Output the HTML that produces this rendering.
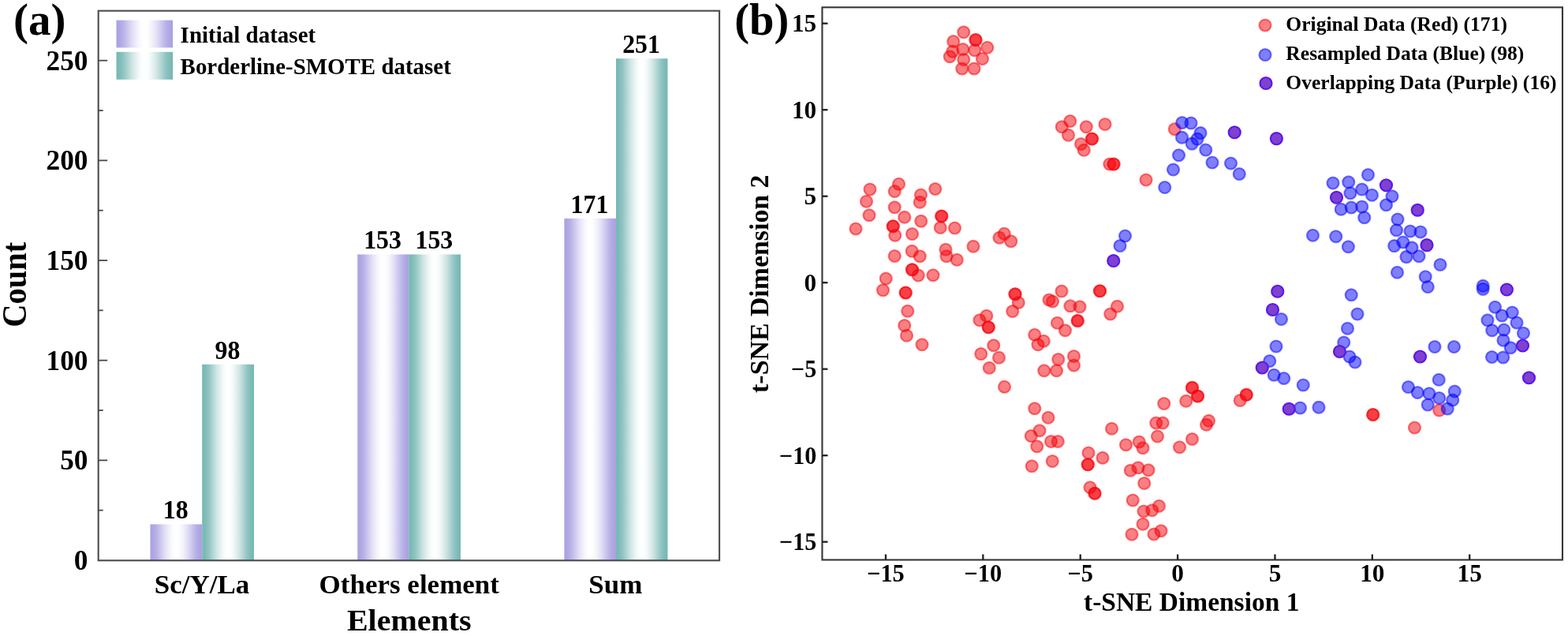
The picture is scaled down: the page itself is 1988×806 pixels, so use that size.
<!DOCTYPE html>
<html lang="en"><head><meta charset="utf-8"><title>Figure</title>
<style>html,body{margin:0;padding:0;background:#fff;}body{width:1988px;height:806px;overflow:hidden;}svg{display:block;}text{font-family:"Liberation Serif",serif;font-weight:bold;fill:#000;}.r{fill:rgba(246,0,8,0.5);stroke:rgba(246,0,8,0.5);stroke-width:2.2;}.b{fill:rgba(0,0,255,0.5);stroke:rgba(0,0,255,0.5);stroke-width:2.2;}.p{fill:#8040d0;stroke:#5a18ec;stroke-width:2.2;}</style></head><body>
<svg width="1988" height="806" viewBox="0 0 1988 806">
<defs><linearGradient id="gp" x1="0" x2="1" y1="0" y2="0"><stop offset="0.00" stop-color="#aaa2e2"/><stop offset="0.04" stop-color="#aca4e3"/><stop offset="0.12" stop-color="#b8b1e7"/><stop offset="0.20" stop-color="#ccc7ee"/><stop offset="0.28" stop-color="#e0def5"/><stop offset="0.34" stop-color="#ecebf9"/><stop offset="0.39" stop-color="#f6f5fc"/><stop offset="0.45" stop-color="#fdfdfe"/><stop offset="0.50" stop-color="#ffffff"/><stop offset="0.55" stop-color="#fdfdfe"/><stop offset="0.61" stop-color="#f6f5fc"/><stop offset="0.66" stop-color="#ecebf9"/><stop offset="0.72" stop-color="#e0def5"/><stop offset="0.80" stop-color="#ccc7ee"/><stop offset="0.88" stop-color="#b8b1e7"/><stop offset="0.96" stop-color="#aca4e3"/><stop offset="1.00" stop-color="#aaa2e2"/></linearGradient><linearGradient id="gt" x1="0" x2="1" y1="0" y2="0"><stop offset="0.00" stop-color="#78b8b4"/><stop offset="0.04" stop-color="#7bb9b6"/><stop offset="0.12" stop-color="#8ec3c0"/><stop offset="0.20" stop-color="#aed4d2"/><stop offset="0.28" stop-color="#cee5e4"/><stop offset="0.34" stop-color="#e1efee"/><stop offset="0.39" stop-color="#f0f7f7"/><stop offset="0.45" stop-color="#fcfefe"/><stop offset="0.50" stop-color="#ffffff"/><stop offset="0.55" stop-color="#fcfefe"/><stop offset="0.61" stop-color="#f0f7f7"/><stop offset="0.66" stop-color="#e1efee"/><stop offset="0.72" stop-color="#cee5e4"/><stop offset="0.80" stop-color="#aed4d2"/><stop offset="0.88" stop-color="#8ec3c0"/><stop offset="0.96" stop-color="#7bb9b6"/><stop offset="1.00" stop-color="#78b8b4"/></linearGradient></defs>
<rect width="1988" height="806" fill="#fff"/>
<rect x="190.5" y="664.40" width="65.75" height="45.60" fill="url(#gp)"/>
<rect x="256.25" y="461.75" width="65.75" height="248.25" fill="url(#gt)"/>
<rect x="453.25" y="322.42" width="64.95" height="387.58" fill="url(#gp)"/>
<rect x="518.2" y="322.42" width="65.80" height="387.58" fill="url(#gt)"/>
<rect x="715.4" y="276.82" width="65.60" height="433.18" fill="url(#gp)"/>
<rect x="781" y="74.17" width="65.50" height="635.83" fill="url(#gt)"/>
<rect x="147.5" y="25.6" width="71.7" height="34.8" fill="url(#gp)"/>
<rect x="147.5" y="65.8" width="71.7" height="35" fill="url(#gt)"/>
<rect x="124.7" y="13.7" width="787.40" height="696.60" fill="none" stroke="#4c4c4c" stroke-width="2.1"/>
<line x1="124.7" x2="130.7" y1="646.67" y2="646.67" stroke="#484848" stroke-width="1.8"/>
<line x1="124.7" x2="136.2" y1="583.34" y2="583.34" stroke="#484848" stroke-width="1.8"/>
<line x1="124.7" x2="130.7" y1="520.01" y2="520.01" stroke="#484848" stroke-width="1.8"/>
<line x1="124.7" x2="136.2" y1="456.68" y2="456.68" stroke="#484848" stroke-width="1.8"/>
<line x1="124.7" x2="130.7" y1="393.35" y2="393.35" stroke="#484848" stroke-width="1.8"/>
<line x1="124.7" x2="136.2" y1="330.02" y2="330.02" stroke="#484848" stroke-width="1.8"/>
<line x1="124.7" x2="130.7" y1="266.69" y2="266.69" stroke="#484848" stroke-width="1.8"/>
<line x1="124.7" x2="136.2" y1="203.36" y2="203.36" stroke="#484848" stroke-width="1.8"/>
<line x1="124.7" x2="130.7" y1="140.03" y2="140.03" stroke="#484848" stroke-width="1.8"/>
<line x1="124.7" x2="136.2" y1="76.70" y2="76.70" stroke="#484848" stroke-width="1.8"/>
<text transform="translate(111.50,721.90) scale(0.975,1)" font-size="36.2" text-anchor="end">0</text>
<text transform="translate(111.50,595.24) scale(0.975,1)" font-size="36.2" text-anchor="end">50</text>
<text transform="translate(111.50,468.58) scale(0.975,1)" font-size="36.2" text-anchor="end">100</text>
<text transform="translate(111.50,341.92) scale(0.975,1)" font-size="36.2" text-anchor="end">150</text>
<text transform="translate(111.50,215.26) scale(0.975,1)" font-size="36.2" text-anchor="end">200</text>
<text transform="translate(111.50,88.60) scale(0.975,1)" font-size="36.2" text-anchor="end">250</text>
<text transform="translate(222.68,657.40) scale(0.96,1)" font-size="33.2" text-anchor="middle">18</text>
<text transform="translate(288.43,454.75) scale(0.96,1)" font-size="33.2" text-anchor="middle">98</text>
<text transform="translate(485.03,315.42) scale(0.96,1)" font-size="33.2" text-anchor="middle">153</text>
<text transform="translate(550.40,315.42) scale(0.96,1)" font-size="33.2" text-anchor="middle">153</text>
<text transform="translate(747.50,269.82) scale(0.96,1)" font-size="33.2" text-anchor="middle">171</text>
<text transform="translate(813.05,67.17) scale(0.96,1)" font-size="33.2" text-anchor="middle">251</text>
<text transform="translate(256.00,751.60) scale(1.055,1)" font-size="33.2" text-anchor="middle">Sc/Y/La</text>
<text transform="translate(518.75,751.60) scale(1.055,1)" font-size="33.2" text-anchor="middle">Others element</text>
<text transform="translate(780.30,751.60) scale(1.055,1)" font-size="33.2" text-anchor="middle">Sum</text>
<text transform="translate(518.75,799.40) scale(1.067,1)" font-size="37.5" text-anchor="middle">Elements</text>
<text transform="translate(33.00,360.80) rotate(-90) scale(0.925,1)" font-size="43.8" text-anchor="middle">Count</text>
<text x="228.6" y="54.2" font-size="29">Initial dataset</text>
<text x="228.6" y="94.0" font-size="28.95">Borderline-SMOTE dataset</text>
<text transform="translate(17.00,43.50)" font-size="57" text-anchor="start">(a)</text>
<circle class="r" cx="1221.75" cy="40.75" r="7.5"/>
<circle class="r" cx="1208.75" cy="52.5" r="7.5"/>
<circle class="r" cx="1237" cy="50.5" r="7.5"/>
<circle class="r" cx="1237" cy="50.5" r="7.5"/>
<circle class="r" cx="1251.75" cy="60.25" r="7.5"/>
<circle class="r" cx="1220.75" cy="62.5" r="7.5"/>
<circle class="r" cx="1235.75" cy="63.75" r="7.5"/>
<circle class="r" cx="1207.9" cy="65.2" r="7.5"/>
<circle class="r" cx="1204.25" cy="71.75" r="7.5"/>
<circle class="r" cx="1221.75" cy="75.5" r="7.5"/>
<circle class="r" cx="1245.5" cy="74.5" r="7.5"/>
<circle class="r" cx="1219.75" cy="87" r="7.5"/>
<circle class="r" cx="1235" cy="87" r="7.5"/>
<circle class="r" cx="1346.25" cy="160.75" r="7.5"/>
<circle class="r" cx="1356.75" cy="153.5" r="7.5"/>
<circle class="r" cx="1377.25" cy="160.75" r="7.5"/>
<circle class="r" cx="1401" cy="157.5" r="7.5"/>
<circle class="r" cx="1354.5" cy="171.25" r="7.5"/>
<circle class="r" cx="1384.5" cy="176" r="7.5"/>
<circle class="r" cx="1384.5" cy="176" r="7.5"/>
<circle class="r" cx="1370.5" cy="182.5" r="7.5"/>
<circle class="r" cx="1374.25" cy="190.25" r="7.5"/>
<circle class="r" cx="1406.8" cy="208" r="7.5"/>
<circle class="r" cx="1412" cy="208" r="7.5"/>
<circle class="r" cx="1412" cy="208" r="7.5"/>
<circle class="r" cx="1489.3" cy="163.7" r="7.5"/>
<circle class="r" cx="1453" cy="228" r="7.5"/>
<circle class="r" cx="1103" cy="240" r="7.5"/>
<circle class="r" cx="1139.5" cy="233.25" r="7.5"/>
<circle class="r" cx="1134.25" cy="242.5" r="7.5"/>
<circle class="r" cx="1185.75" cy="239.5" r="7.5"/>
<circle class="r" cx="1167.5" cy="247" r="7.5"/>
<circle class="r" cx="1166.25" cy="256.25" r="7.5"/>
<circle class="r" cx="1098.5" cy="255.25" r="7.5"/>
<circle class="r" cx="1134.25" cy="262.75" r="7.5"/>
<circle class="r" cx="1102" cy="272.75" r="7.5"/>
<circle class="r" cx="1146.75" cy="275.25" r="7.5"/>
<circle class="r" cx="1193.75" cy="274" r="7.5"/>
<circle class="r" cx="1193.75" cy="274" r="7.5"/>
<circle class="r" cx="1167.75" cy="280.25" r="7.5"/>
<circle class="r" cx="1132.25" cy="286.75" r="7.5"/>
<circle class="r" cx="1132.25" cy="286.75" r="7.5"/>
<circle class="r" cx="1085" cy="290" r="7.5"/>
<circle class="r" cx="1192.25" cy="288.5" r="7.5"/>
<circle class="r" cx="1210.5" cy="289" r="7.5"/>
<circle class="r" cx="1156.5" cy="296.5" r="7.5"/>
<circle class="r" cx="1134.75" cy="298.25" r="7.5"/>
<circle class="r" cx="1273.25" cy="296.25" r="7.5"/>
<circle class="r" cx="1267" cy="301.25" r="7.5"/>
<circle class="r" cx="1281.75" cy="305.75" r="7.5"/>
<circle class="r" cx="1234" cy="312.25" r="7.5"/>
<circle class="r" cx="1199" cy="316.25" r="7.5"/>
<circle class="r" cx="1156.25" cy="318.25" r="7.5"/>
<circle class="r" cx="1134.25" cy="324.5" r="7.5"/>
<circle class="r" cx="1166.25" cy="324.75" r="7.5"/>
<circle class="r" cx="1200" cy="324.75" r="7.5"/>
<circle class="r" cx="1213.25" cy="329.25" r="7.5"/>
<circle class="r" cx="1156.5" cy="341.75" r="7.5"/>
<circle class="r" cx="1156.5" cy="341.75" r="7.5"/>
<circle class="r" cx="1164.25" cy="349" r="7.5"/>
<circle class="r" cx="1183" cy="348.75" r="7.5"/>
<circle class="r" cx="1123.25" cy="353" r="7.5"/>
<circle class="r" cx="1119.5" cy="367.75" r="7.5"/>
<circle class="r" cx="1148.25" cy="371" r="7.5"/>
<circle class="r" cx="1148.25" cy="371" r="7.5"/>
<circle class="r" cx="1150.75" cy="394.25" r="7.5"/>
<circle class="r" cx="1146.75" cy="412.5" r="7.5"/>
<circle class="r" cx="1149.5" cy="425.25" r="7.5"/>
<circle class="r" cx="1169" cy="436.75" r="7.5"/>
<circle class="r" cx="1287" cy="372.75" r="7.5"/>
<circle class="r" cx="1287" cy="372.75" r="7.5"/>
<circle class="r" cx="1291.25" cy="383.5" r="7.5"/>
<circle class="r" cx="1283.75" cy="394.5" r="7.5"/>
<circle class="r" cx="1250.75" cy="400.25" r="7.5"/>
<circle class="r" cx="1242" cy="405.75" r="7.5"/>
<circle class="r" cx="1253.25" cy="414.75" r="7.5"/>
<circle class="r" cx="1253.25" cy="414.75" r="7.5"/>
<circle class="r" cx="1346" cy="369" r="7.5"/>
<circle class="r" cx="1330" cy="380" r="7.5"/>
<circle class="r" cx="1334.5" cy="382" r="7.5"/>
<circle class="r" cx="1357" cy="387.75" r="7.5"/>
<circle class="r" cx="1369" cy="388.75" r="7.5"/>
<circle class="r" cx="1394.5" cy="368.75" r="7.5"/>
<circle class="r" cx="1394.5" cy="368.75" r="7.5"/>
<circle class="r" cx="1416.5" cy="388.25" r="7.5"/>
<circle class="r" cx="1407.75" cy="398" r="7.5"/>
<circle class="r" cx="1340.5" cy="409.25" r="7.5"/>
<circle class="r" cx="1366.25" cy="406.5" r="7.5"/>
<circle class="r" cx="1366.25" cy="406.5" r="7.5"/>
<circle class="r" cx="1350.5" cy="418.75" r="7.5"/>
<circle class="r" cx="1311.75" cy="424.25" r="7.5"/>
<circle class="r" cx="1323.25" cy="432.25" r="7.5"/>
<circle class="r" cx="1316" cy="436.75" r="7.5"/>
<circle class="r" cx="1259.75" cy="437.75" r="7.5"/>
<circle class="r" cx="1243.75" cy="448.5" r="7.5"/>
<circle class="r" cx="1266.5" cy="453.25" r="7.5"/>
<circle class="r" cx="1254.25" cy="466.25" r="7.5"/>
<circle class="r" cx="1361.5" cy="451.5" r="7.5"/>
<circle class="r" cx="1341.75" cy="455.5" r="7.5"/>
<circle class="r" cx="1361.5" cy="463" r="7.5"/>
<circle class="r" cx="1323.75" cy="469.75" r="7.5"/>
<circle class="r" cx="1339.5" cy="469.75" r="7.5"/>
<circle class="r" cx="1273.5" cy="490.25" r="7.5"/>
<circle class="r" cx="1311.75" cy="517.75" r="7.5"/>
<circle class="r" cx="1329" cy="529.25" r="7.5"/>
<circle class="r" cx="1318" cy="545.75" r="7.5"/>
<circle class="r" cx="1307.25" cy="552.5" r="7.5"/>
<circle class="r" cx="1332.5" cy="559.5" r="7.5"/>
<circle class="r" cx="1341.25" cy="559.5" r="7.5"/>
<circle class="r" cx="1314.75" cy="565.75" r="7.5"/>
<circle class="r" cx="1334.25" cy="584.5" r="7.5"/>
<circle class="r" cx="1308.25" cy="590.75" r="7.5"/>
<circle class="r" cx="1409.5" cy="543.25" r="7.5"/>
<circle class="r" cx="1380" cy="574" r="7.5"/>
<circle class="r" cx="1398" cy="580.25" r="7.5"/>
<circle class="r" cx="1379.25" cy="588.75" r="7.5"/>
<circle class="r" cx="1379.25" cy="588.75" r="7.5"/>
<circle class="r" cx="1382" cy="617.75" r="7.5"/>
<circle class="r" cx="1388" cy="625.25" r="7.5"/>
<circle class="r" cx="1388" cy="625.25" r="7.5"/>
<circle class="r" cx="1427.5" cy="563.75" r="7.5"/>
<circle class="r" cx="1444.25" cy="560" r="7.5"/>
<circle class="r" cx="1449" cy="567.75" r="7.5"/>
<circle class="r" cx="1465.75" cy="536" r="7.5"/>
<circle class="r" cx="1474.25" cy="536" r="7.5"/>
<circle class="r" cx="1467.5" cy="553" r="7.5"/>
<circle class="r" cx="1475.75" cy="511.5" r="7.5"/>
<circle class="r" cx="1503.75" cy="508.25" r="7.5"/>
<circle class="r" cx="1511.5" cy="491.25" r="7.5"/>
<circle class="r" cx="1511.5" cy="491.25" r="7.5"/>
<circle class="r" cx="1518.5" cy="502" r="7.5"/>
<circle class="r" cx="1518.5" cy="502" r="7.5"/>
<circle class="r" cx="1495.5" cy="566.75" r="7.5"/>
<circle class="r" cx="1511.5" cy="556.5" r="7.5"/>
<circle class="r" cx="1532.5" cy="533.25" r="7.5"/>
<circle class="r" cx="1529.5" cy="538.25" r="7.5"/>
<circle class="r" cx="1433.25" cy="596.25" r="7.5"/>
<circle class="r" cx="1443" cy="592.75" r="7.5"/>
<circle class="r" cx="1456" cy="595.75" r="7.5"/>
<circle class="r" cx="1450.75" cy="612.5" r="7.5"/>
<circle class="r" cx="1436.25" cy="634" r="7.5"/>
<circle class="r" cx="1469.5" cy="641.25" r="7.5"/>
<circle class="r" cx="1450" cy="648" r="7.5"/>
<circle class="r" cx="1460.75" cy="646.75" r="7.5"/>
<circle class="r" cx="1449" cy="664.25" r="7.5"/>
<circle class="r" cx="1435" cy="677.25" r="7.5"/>
<circle class="r" cx="1463" cy="677" r="7.5"/>
<circle class="r" cx="1472" cy="672.75" r="7.5"/>
<circle class="r" cx="1580.25" cy="500.25" r="7.5"/>
<circle class="r" cx="1580.25" cy="500.25" r="7.5"/>
<circle class="r" cx="1572.25" cy="507.5" r="7.5"/>
<circle class="r" cx="1740.75" cy="525.5" r="7.5"/>
<circle class="r" cx="1740.75" cy="525.5" r="7.5"/>
<circle class="r" cx="1793.5" cy="542" r="7.5"/>
<circle class="r" cx="1824.75" cy="520" r="7.5"/>
<circle class="b" cx="1498.75" cy="155.5" r="7.5"/>
<circle class="b" cx="1510" cy="156" r="7.5"/>
<circle class="b" cx="1522" cy="168.6" r="7.5"/>
<circle class="b" cx="1498.5" cy="174.2" r="7.5"/>
<circle class="b" cx="1518" cy="176.1" r="7.5"/>
<circle class="b" cx="1511.2" cy="182.1" r="7.5"/>
<circle class="b" cx="1528.75" cy="190" r="7.5"/>
<circle class="b" cx="1494.5" cy="196.75" r="7.5"/>
<circle class="b" cx="1537" cy="206" r="7.5"/>
<circle class="b" cx="1487.5" cy="215" r="7.5"/>
<circle class="b" cx="1560.5" cy="207" r="7.5"/>
<circle class="b" cx="1571.25" cy="220.5" r="7.5"/>
<circle class="b" cx="1476.75" cy="237.5" r="7.5"/>
<circle class="b" cx="1426.5" cy="299" r="7.5"/>
<circle class="b" cx="1420" cy="311.5" r="7.5"/>
<circle class="b" cx="1734.5" cy="221.5" r="7.5"/>
<circle class="b" cx="1690" cy="232" r="7.5"/>
<circle class="b" cx="1709.75" cy="230.75" r="7.5"/>
<circle class="b" cx="1726.75" cy="240" r="7.5"/>
<circle class="b" cx="1712" cy="244.75" r="7.5"/>
<circle class="b" cx="1739.5" cy="247.25" r="7.5"/>
<circle class="b" cx="1765" cy="248.75" r="7.5"/>
<circle class="b" cx="1757.5" cy="259.75" r="7.5"/>
<circle class="b" cx="1700.25" cy="265.25" r="7.5"/>
<circle class="b" cx="1713.25" cy="263" r="7.5"/>
<circle class="b" cx="1726.75" cy="262" r="7.5"/>
<circle class="b" cx="1729.75" cy="275.75" r="7.5"/>
<circle class="b" cx="1772" cy="278" r="7.5"/>
<circle class="b" cx="1770.5" cy="291.75" r="7.5"/>
<circle class="b" cx="1788" cy="293" r="7.5"/>
<circle class="b" cx="1801" cy="294" r="7.5"/>
<circle class="b" cx="1664.5" cy="298.25" r="7.5"/>
<circle class="b" cx="1693.75" cy="299.75" r="7.5"/>
<circle class="b" cx="1709.4" cy="312.75" r="7.5"/>
<circle class="b" cx="1778.9" cy="307" r="7.5"/>
<circle class="b" cx="1767.75" cy="311.6" r="7.5"/>
<circle class="b" cx="1790" cy="313.9" r="7.5"/>
<circle class="b" cx="1783" cy="325.6" r="7.5"/>
<circle class="b" cx="1799" cy="324.75" r="7.5"/>
<circle class="b" cx="1826" cy="335.5" r="7.5"/>
<circle class="b" cx="1771.5" cy="345.25" r="7.5"/>
<circle class="b" cx="1807.25" cy="350.75" r="7.5"/>
<circle class="b" cx="1810.25" cy="363.5" r="7.5"/>
<circle class="b" cx="1880.2" cy="362.3" r="7.5"/>
<circle class="b" cx="1880.2" cy="366.3" r="7.5"/>
<circle class="b" cx="1713.25" cy="373.75" r="7.5"/>
<circle class="b" cx="1624.5" cy="404.5" r="7.5"/>
<circle class="b" cx="1721" cy="398" r="7.5"/>
<circle class="b" cx="1708.5" cy="416.25" r="7.5"/>
<circle class="b" cx="1618" cy="439" r="7.5"/>
<circle class="b" cx="1703.75" cy="434" r="7.5"/>
<circle class="b" cx="1711" cy="452" r="7.5"/>
<circle class="b" cx="1718" cy="459" r="7.5"/>
<circle class="b" cx="1609.75" cy="457.5" r="7.5"/>
<circle class="b" cx="1615.25" cy="475.25" r="7.5"/>
<circle class="b" cx="1627.75" cy="479.5" r="7.5"/>
<circle class="b" cx="1652.25" cy="488" r="7.5"/>
<circle class="b" cx="1819" cy="439.5" r="7.5"/>
<circle class="b" cx="1843.5" cy="439.5" r="7.5"/>
<circle class="b" cx="1824.25" cy="481.25" r="7.5"/>
<circle class="b" cx="1785.5" cy="490.5" r="7.5"/>
<circle class="b" cx="1797.25" cy="497.5" r="7.5"/>
<circle class="b" cx="1812" cy="498.75" r="7.5"/>
<circle class="b" cx="1824.75" cy="504.5" r="7.5"/>
<circle class="b" cx="1844.25" cy="496" r="7.5"/>
<circle class="b" cx="1841.75" cy="507" r="7.5"/>
<circle class="b" cx="1810.25" cy="513" r="7.5"/>
<circle class="b" cx="1835.25" cy="518" r="7.5"/>
<circle class="b" cx="1648.5" cy="517" r="7.5"/>
<circle class="b" cx="1672" cy="516.25" r="7.5"/>
<circle class="b" cx="1895.5" cy="389.25" r="7.5"/>
<circle class="b" cx="1904.25" cy="400" r="7.5"/>
<circle class="b" cx="1917.25" cy="396" r="7.5"/>
<circle class="b" cx="1886" cy="405.75" r="7.5"/>
<circle class="b" cx="1923" cy="409" r="7.5"/>
<circle class="b" cx="1891.75" cy="418.75" r="7.5"/>
<circle class="b" cx="1906.75" cy="418" r="7.5"/>
<circle class="b" cx="1931.5" cy="422.25" r="7.5"/>
<circle class="b" cx="1906" cy="431.25" r="7.5"/>
<circle class="b" cx="1915.25" cy="440.75" r="7.5"/>
<circle class="b" cx="1891.5" cy="452.5" r="7.5"/>
<circle class="b" cx="1905.75" cy="453" r="7.5"/>
<circle class="p" cx="1565.25" cy="167.75" r="7.5"/>
<circle class="p" cx="1618.4" cy="175.6" r="7.5"/>
<circle class="p" cx="1757.5" cy="234.75" r="7.5"/>
<circle class="p" cx="1694.5" cy="250.25" r="7.5"/>
<circle class="p" cx="1797.25" cy="266.25" r="7.5"/>
<circle class="p" cx="1809" cy="310.6" r="7.5"/>
<circle class="p" cx="1910.4" cy="367" r="7.5"/>
<circle class="p" cx="1619.75" cy="369.25" r="7.5"/>
<circle class="p" cx="1613.5" cy="392.5" r="7.5"/>
<circle class="p" cx="1698.5" cy="445.5" r="7.5"/>
<circle class="p" cx="1600.25" cy="466" r="7.5"/>
<circle class="p" cx="1800.5" cy="452" r="7.5"/>
<circle class="p" cx="1930.5" cy="438" r="7.5"/>
<circle class="p" cx="1938.5" cy="478.75" r="7.5"/>
<circle class="p" cx="1634.25" cy="518.25" r="7.5"/>
<circle class="p" cx="1411.75" cy="330.5" r="7.5"/>
<circle class="r" cx="1604" cy="32" r="7.5"/>
<circle class="b" cx="1604" cy="69.5" r="7.5"/>
<circle class="p" cx="1605" cy="105.5" r="7.5"/>
<text transform="translate(1630.30,39.30) scale(1.032,1)" font-size="24.8" text-anchor="start">Original Data (Red) (171)</text>
<text transform="translate(1630.30,76.20) scale(1.032,1)" font-size="24.8" text-anchor="start">Resampled Data (Blue) (98)</text>
<text transform="translate(1630.30,112.80) scale(1.032,1)" font-size="24.8" text-anchor="start">Overlapping Data (Purple) (16)</text>
<rect x="1042.45" y="9.3" width="938.55" height="700.20" fill="none" stroke="#363636" stroke-width="2.1"/>
<line x1="1122.97" x2="1122.97" y1="709.5" y2="702.5" stroke="#202020" stroke-width="2.3"/>
<line x1="1042.45" x2="1049.45" y1="686.70" y2="686.70" stroke="#202020" stroke-width="2.3"/>
<text transform="translate(1122.97,737.20) scale(0.97,1)" font-size="31.3" text-anchor="middle">−15</text>
<text transform="translate(1035.20,697.40) scale(0.96,1)" font-size="31.3" text-anchor="end">−15</text>
<line x1="1246.35" x2="1246.35" y1="709.5" y2="702.5" stroke="#202020" stroke-width="2.3"/>
<line x1="1042.45" x2="1049.45" y1="577.20" y2="577.20" stroke="#202020" stroke-width="2.3"/>
<text transform="translate(1246.35,737.20) scale(0.97,1)" font-size="31.3" text-anchor="middle">−10</text>
<text transform="translate(1035.20,587.90) scale(0.96,1)" font-size="31.3" text-anchor="end">−10</text>
<line x1="1369.72" x2="1369.72" y1="709.5" y2="702.5" stroke="#202020" stroke-width="2.3"/>
<line x1="1042.45" x2="1049.45" y1="467.70" y2="467.70" stroke="#202020" stroke-width="2.3"/>
<text transform="translate(1369.72,737.20) scale(0.97,1)" font-size="31.3" text-anchor="middle">−5</text>
<text transform="translate(1035.20,478.40) scale(0.96,1)" font-size="31.3" text-anchor="end">−5</text>
<line x1="1493.10" x2="1493.10" y1="709.5" y2="702.5" stroke="#202020" stroke-width="2.3"/>
<line x1="1042.45" x2="1049.45" y1="358.20" y2="358.20" stroke="#202020" stroke-width="2.3"/>
<text transform="translate(1493.10,737.20)" font-size="31.3" text-anchor="middle">0</text>
<text transform="translate(1035.20,368.90)" font-size="31.3" text-anchor="end">0</text>
<line x1="1616.47" x2="1616.47" y1="709.5" y2="702.5" stroke="#202020" stroke-width="2.3"/>
<line x1="1042.45" x2="1049.45" y1="248.70" y2="248.70" stroke="#202020" stroke-width="2.3"/>
<text transform="translate(1616.47,737.20)" font-size="31.3" text-anchor="middle">5</text>
<text transform="translate(1035.20,259.40)" font-size="31.3" text-anchor="end">5</text>
<line x1="1739.85" x2="1739.85" y1="709.5" y2="702.5" stroke="#202020" stroke-width="2.3"/>
<line x1="1042.45" x2="1049.45" y1="139.20" y2="139.20" stroke="#202020" stroke-width="2.3"/>
<text transform="translate(1739.85,737.20)" font-size="31.3" text-anchor="middle">10</text>
<text transform="translate(1035.20,149.90)" font-size="31.3" text-anchor="end">10</text>
<line x1="1863.22" x2="1863.22" y1="709.5" y2="702.5" stroke="#202020" stroke-width="2.3"/>
<line x1="1042.45" x2="1049.45" y1="29.70" y2="29.70" stroke="#202020" stroke-width="2.3"/>
<text transform="translate(1863.22,737.20)" font-size="31.3" text-anchor="middle">15</text>
<text transform="translate(1035.20,40.40)" font-size="31.3" text-anchor="end">15</text>
<text transform="translate(1510.70,774.00) scale(0.979,1)" font-size="34.2" text-anchor="middle">t-SNE Dimension 1</text>
<text transform="translate(973.80,359.70) rotate(-90) scale(0.99,1)" font-size="34.2" text-anchor="middle">t-SNE Dimension 2</text>
<text transform="translate(931.30,44.30)" font-size="56.5" text-anchor="start">(b)</text>
</svg></body></html>
